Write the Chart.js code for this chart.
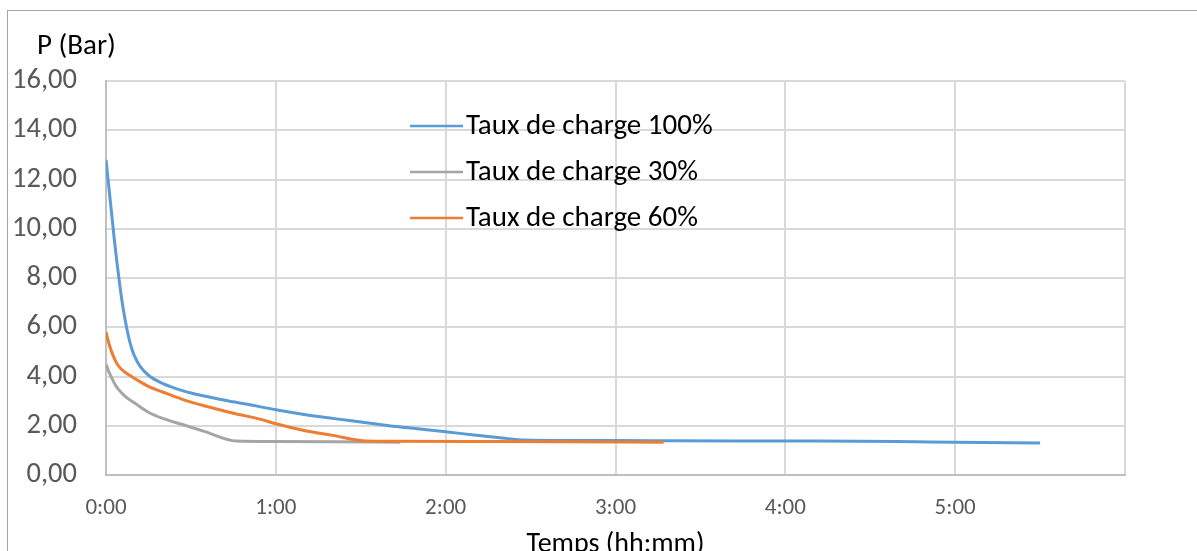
<!DOCTYPE html>
<html>
<head>
<meta charset="utf-8">
<script src="https://cdn.jsdelivr.net/npm/chart.js@4/dist/chart.umd.min.js"></script>
<style>
  body { margin: 0; background: #fff; }
  #wrap { position: relative; width: 1197px; height: 551px; overflow: hidden; }
  #frame { position: absolute; left: 7px; top: 10px; width: 1200px; height: 600px;
           border-left: 1px solid #a6a6a6; border-top: 1px solid #a6a6a6; }
  #chart { position: absolute; left: 0; top: 0; }
</style>
</head>
<body>
<div id="wrap">
  <div id="frame"></div>
  <canvas id="chart" width="1197" height="551"></canvas>
</div>
<script>
// temps en minutes, pression en bar
const seriesNames = ['Taux de charge 100%', 'Taux de charge 30%', 'Taux de charge 60%'];
const seriesColors = ['#5B9BD5', '#A5A5A5', '#ED7D31'];

const t100 = [0, 1, 2, 3, 4, 5, 6, 7, 8, 9, 10, 12, 15, 20, 25, 30, 40, 50, 60, 70, 80, 90, 100, 110, 120, 130, 140, 148, 160, 180, 200, 240, 280, 300, 330];
const p100 = [12.8, 11.7, 10.6, 9.5, 8.5, 7.6, 6.8, 6.15, 5.6, 5.17, 4.85, 4.42, 4.05, 3.72, 3.5, 3.33, 3.08, 2.87, 2.65, 2.46, 2.3, 2.15, 2.0, 1.88, 1.76, 1.62, 1.5, 1.42, 1.40, 1.40, 1.39, 1.38, 1.36, 1.33, 1.30];

const t30 = [0, 1, 2, 3, 4, 5, 6, 7, 8, 10, 15, 20, 27, 35, 46, 60, 80, 104];
const p30 = [4.5, 4.2, 3.95, 3.72, 3.54, 3.4, 3.28, 3.17, 3.08, 2.93, 2.55, 2.3, 2.05, 1.76, 1.38, 1.36, 1.35, 1.33];

const t60 = [0, 1, 2, 3, 4, 5, 6, 7, 8, 10, 15, 20, 27, 35, 45, 55, 60, 70, 80, 92, 100, 130, 160, 197];
const p60 = [5.8, 5.35, 5.0, 4.72, 4.5, 4.35, 4.24, 4.15, 4.07, 3.93, 3.6, 3.37, 3.07, 2.8, 2.51, 2.25, 2.08, 1.81, 1.61, 1.38, 1.37, 1.36, 1.35, 1.33];

const xMax = 360;
const yTitle = 'P (Bar)';
const xTitle = 'Temps (hh:mm)';

const FONT = 'Carlito, Calibri, Lato, sans-serif';

function toPoints(t, p) {
  return t.map((v, i) => ({ x: v, y: p[i] }));
}

function fmtTime(min) {
  const h = Math.floor(min / 60);
  const m = Math.round(min % 60);
  return h + ':' + String(m).padStart(2, '0');
}

// titre de l'axe Y et légende dans la zone du graphique, comme dans Excel
const excelText = {
  id: 'excelText',
  afterDraw(chart) {
    const ctx = chart.ctx;
    ctx.save();
    ctx.fillStyle = '#000';
    ctx.textBaseline = 'middle';
    ctx.textAlign = 'left';
    ctx.font = '29px ' + FONT;
    ctx.fillText(yTitle, 37, 47);

    const lx = 410, rows = [126, 172, 218];
    chart.data.datasets.forEach((ds, i) => {
      ctx.strokeStyle = ds.borderColor;
      ctx.lineWidth = 2.5;
      ctx.beginPath();
      ctx.moveTo(lx, rows[i]);
      ctx.lineTo(lx + 53, rows[i]);
      ctx.stroke();
      ctx.fillStyle = '#000';
      ctx.fillText(ds.label, lx + 56, rows[i] + 1);
    });
    ctx.restore();
  }
};

const datasets = [
  { label: seriesNames[0], data: toPoints(t100, p100), borderColor: seriesColors[0], order: 3 },
  { label: seriesNames[1], data: toPoints(t30, p30), borderColor: seriesColors[1], order: 2 },
  { label: seriesNames[2], data: toPoints(t60, p60), borderColor: seriesColors[2], order: 1 }
].map(d => ({
  ...d,
  backgroundColor: d.borderColor,
  borderWidth: 3,
  pointRadius: 0,
  fill: false,
  cubicInterpolationMode: 'monotone'
}));

new Chart(document.getElementById('chart'), {
  type: 'line',
  data: { datasets },
  options: {
    responsive: false,
    animation: false,
    layout: { padding: { left: 0, right: 72, top: 81, bottom: 0 } },
    plugins: {
      legend: { display: false },
      tooltip: { enabled: false }
    },
    scales: {
      x: {
        type: 'linear',
        min: 0,
        max: xMax,
        afterFit(scale) { scale.height = 76; },
        ticks: {
          stepSize: 60,
          color: '#595959',
          font: { family: FONT, size: 23 },
          padding: 19,
          maxRotation: 0,
          callback: (v) => (v >= xMax ? '' : fmtTime(v))
        },
        grid: { color: '#d9d9d9', lineWidth: 2, drawTicks: false },
        border: { color: '#bfbfbf', width: 2 },
        title: {
          display: true,
          text: xTitle,
          color: '#000',
          font: { family: FONT, size: 28 },
          padding: { top: 0, bottom: -11 }
        }
      },
      y: {
        min: 0,
        max: 16,
        afterFit(scale) { scale.width = 106; },
        ticks: {
          stepSize: 2,
          color: '#595959',
          font: { family: FONT, size: 28.5 },
          padding: 29,
          callback: (v) => v.toFixed(2).replace('.', ',')
        },
        grid: { color: '#d9d9d9', lineWidth: 2, drawTicks: false },
        border: { color: '#bfbfbf', width: 2 }
      }
    }
  },
  plugins: [excelText]
});
</script>
</body>
</html>
